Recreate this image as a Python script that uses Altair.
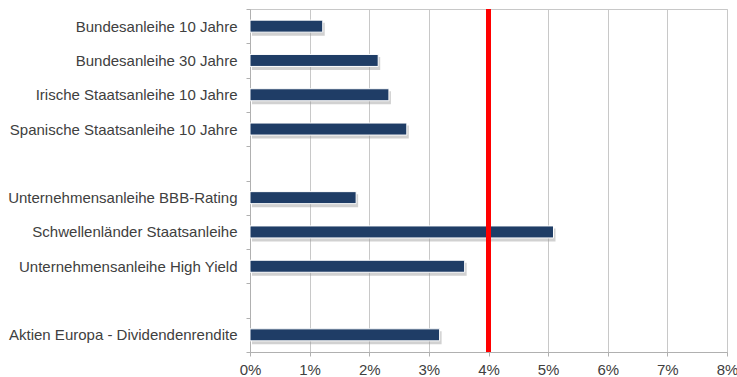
import altair as alt
import pandas as pd

categories = [
    "Bundesanleihe 10 Jahre",
    "Bundesanleihe 30 Jahre",
    "Irische Staatsanleihe 10 Jahre",
    "Spanische Staatsanleihe 10 Jahre",
    " ",
    "Unternehmensanleihe BBB-Rating",
    "Schwellenländer Staatsanleihe",
    "Unternehmensanleihe High Yield",
    "  ",
    "Aktien Europa - Dividendenrendite",
]
values = [0.0122, 0.0215, 0.0233, 0.0263, None, 0.0178, 0.0509, 0.0360, None, 0.0318]
reference_line = [0.04]
x_ticks = [0, 0.01, 0.02, 0.03, 0.04, 0.05, 0.06, 0.07, 0.08]

df = pd.DataFrame({"cat": categories, "val": values})
ref = pd.DataFrame({"x": reference_line})

FONT = "Liberation Sans"
xscale = alt.Scale(domain=[0, 0.08], nice=False)
yscale = alt.Scale(domain=categories, paddingInner=0, paddingOuter=0)

y_enc = alt.Y(
    "cat:N", sort=categories, scale=yscale, title=None,
    axis=alt.Axis(
        tickBand="extent", tickSize=4, tickColor="#b0b0b0", domainColor="#b0b0b0",
        labelFont=FONT, labelFontSize=15, labelColor="#404040", labelPadding=9,
        labelLimit=400, grid=False,
    ),
)
x_enc = alt.X(
    "val:Q", scale=xscale, title=None,
    axis=alt.Axis(
        format=".0%", values=x_ticks, labelFlush=False,
        tickSize=4, tickColor="#b0b0b0", domainColor="#b0b0b0",
        gridColor="#c8c8c8", gridWidth=1, labelFont=FONT, labelFontSize=15,
        labelColor="#404040", labelPadding=6,
    ),
)

base = alt.Chart(df).transform_filter("datum.val != null")

shadow = base.mark_bar(size=13, color="#9a9a9a", opacity=0.45, xOffset=2, yOffset=3, x2Offset=2).encode(
    x=x_enc, y=y_enc, x2=alt.datum(0)
)
bars = base.mark_bar(size=12, color="#1f3d66", stroke="white", strokeWidth=1).encode(
    x=x_enc, y=y_enc
)
rule = alt.Chart(ref).mark_rule(color="#ff0000", strokeWidth=5).encode(
    x=alt.X("x:Q", scale=xscale)
)

chart = (
    alt.layer(shadow, bars, rule)
    .properties(
        width=477, height=343,
        padding={"left": 250, "top": 9, "right": 10, "bottom": 25},
        autosize=alt.AutoSizeParams(type="none"),
        background="white",
    )
    .configure_view(stroke="#c8c8c8", strokeWidth=1)
)

chart.save("out.html", embed_options={"renderer": "svg", "actions": False})
